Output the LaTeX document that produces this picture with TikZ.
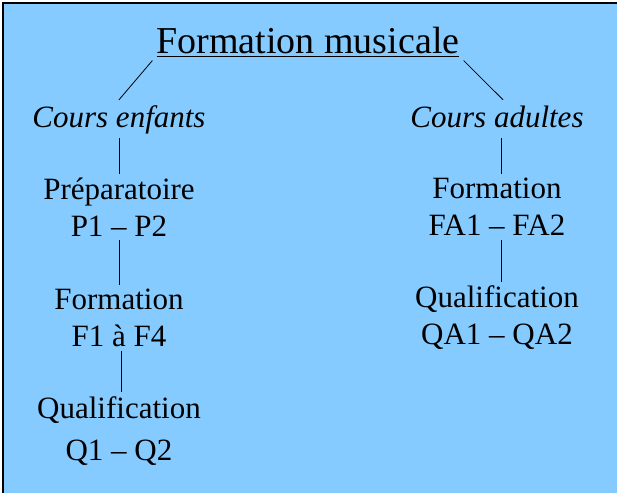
\documentclass[tikz,border=0pt]{standalone}
\usepackage{fontspec}
\setmainfont{Liberation Serif}
\usetikzlibrary{positioning}
\definecolor{fond}{RGB}{133,203,255}
\tikzset
{
    titre/.style  = {align=center, inner sep=4pt, font=\fontsize{38}{44}\selectfont},
    cours/.style  = {align=center, inner sep=4pt, text height=23pt, text depth=7pt, font=\fontsize{31}{37}\selectfont\itshape},
    niveau/.style = {align=center, inner sep=4pt, font=\fontsize{31}{37}\selectfont},
    lien/.style   = {line width=0.8pt}
}
\begin{document}
\begin{tikzpicture}[x=1pt, y=1pt, node distance=111pt]
	\useasboundingbox (0,0) rectangle (617,-492);
	\fill[fond] (2,-2) rectangle (622,-497);
	\draw[line width=2pt] (3,-497) -- (3,-3) -- (622,-3);

	\node (titre) at (308,-42) [titre] {\underline{Formation musicale}};
	\node (enfants) at (119,-119) [cours] {Cours enfants};
	\node (adultes) [cours, right of=enfants, node distance=378pt] {Cours adultes};
	\node (prep) [niveau, below of=enfants, node distance=88pt] {Préparatoire\\P1 – P2};
	\node (formE) [niveau, below of=prep] {Formation\\F1 à F4};
	\node (qualE) [niveau, below of=formE, yshift=-2pt] {Qualification\\[5pt]Q1 – Q2};
	\node (formA) [niveau, below of=adultes, node distance=88pt] {Formation\\FA1 – FA2};
	\node (qualA) [niveau, below of=formA] {Qualification\\QA1 – QA2};

	\draw [lien] (titre.south west) -- (enfants.north);
	\draw [lien] (titre.south east) -- ([xshift=6pt]adultes.north);
	\draw [lien] (enfants) -- (prep);
	\draw [lien] (prep) -- (formE);
	\draw [lien] ([xshift=2pt]formE.south) -- ([xshift=2pt]qualE.north);
	\draw [lien] ([xshift=4pt]adultes.south) -- ([xshift=4pt]formA.north);
	\draw [lien] ([xshift=4pt]formA.south) -- ([xshift=4pt]qualA.north);
\end{tikzpicture}
\end{document}
